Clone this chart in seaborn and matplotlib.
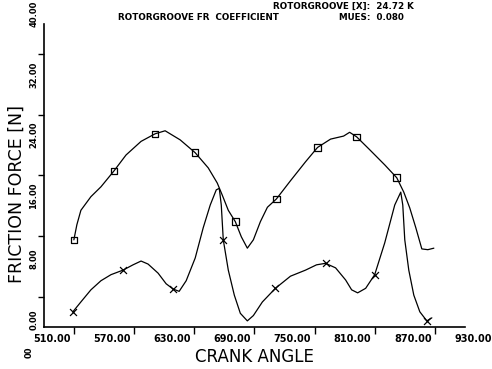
import numpy as np
import pandas as pd
import matplotlib.pyplot as plt
import seaborn as sns
from matplotlib.transforms import ScaledTranslation

# upper curve (square markers)
upper_angle = [540, 543, 547, 557, 567, 580, 592, 607, 621, 631, 646, 661, 674, 683, 688,
               694, 701, 707, 713, 719, 726, 733, 742, 756, 771, 783, 796, 809, 815, 822,
               835, 850, 862, 869, 875, 881, 887, 893, 899]
upper_force = [11.5, 13.5, 15.4, 17.2, 18.5, 20.6, 22.7, 24.5, 25.5, 25.9, 24.7, 23.0, 21.0,
               19.0, 17.4, 15.4, 13.9, 11.9, 10.4, 11.5, 13.9, 15.8, 16.9, 19.3, 21.8, 23.7,
               24.8, 25.2, 25.7, 25.1, 23.4, 21.4, 19.7, 17.8, 15.7, 13.1, 10.3, 10.2, 10.4]
upper_mark_angle = [540, 580, 621, 661, 701, 742, 783, 822, 862]
upper_mark_force = [11.5, 20.6, 25.5, 23.0, 13.9, 16.9, 23.7, 25.1, 19.7]

# lower curve (x markers)
lower_angle = [539, 547, 557, 567, 577, 589, 599, 607, 614, 624, 632, 639, 645, 652, 661,
               669, 676, 682, 685, 687, 689, 694, 700, 706, 713, 719, 728, 741, 756, 771,
               782, 791, 801, 811, 817, 823, 831, 840, 850, 860, 866, 868, 870, 874, 879,
               885, 892, 897]
lower_force = [2.0, 3.3, 4.9, 6.1, 6.9, 7.5, 8.2, 8.7, 8.3, 7.1, 5.7, 5.0, 4.7, 6.1, 9.1,
               13.1, 16.1, 18.1, 18.3, 16.1, 11.5, 7.5, 4.2, 1.8, 0.8, 1.5, 3.3, 5.1, 6.7,
               7.5, 8.2, 8.4, 7.8, 6.2, 4.9, 4.5, 5.1, 6.9, 11.1, 16.1, 17.8, 16.1, 11.5,
               7.5, 4.2, 2.0, 0.8, 1.2]
lower_mark_angle = [539, 589, 639, 689, 741, 791, 840, 892]
lower_mark_force = [2.0, 7.5, 5.0, 11.5, 5.1, 8.4, 6.9, 0.8]

x_labels = [510, 570, 630, 690, 750, 810, 870, 930]
y_labels = [0, 8, 16, 24, 32, 40]

sns.set_style("white")
plt.rcParams['font.family'] = ['DejaVu Sans']
plt.rcParams.update({"text.color": "black", "axes.labelcolor": "black",
                     "xtick.color": "black", "ytick.color": "black"})

fig = plt.figure(figsize=(4.92, 3.69), dpi=100)
ax = fig.add_axes([0.089, 0.114, 0.856, 0.821])

up = pd.DataFrame({"angle": upper_angle, "force": upper_force})
lo = pd.DataFrame({"angle": lower_angle, "force": lower_force})
sns.lineplot(data=up, x="angle", y="force", sort=False, color="black", lw=0.9, ax=ax)
sns.lineplot(data=lo, x="angle", y="force", sort=False, color="black", lw=0.9, ax=ax)
sns.scatterplot(x=upper_mark_angle, y=upper_mark_force, marker="s", s=22,
                facecolor="none", edgecolor="black", linewidth=0.9, ax=ax)
sns.scatterplot(x=lower_mark_angle, y=lower_mark_force, marker="x", s=25,
                color="black", linewidth=0.9, ax=ax)

ax.set_xlim(510, 930)
ax.set_ylim(0, 40)
for s in ["top", "right"]:
    ax.spines[s].set_visible(False)
for s in ["left", "bottom"]:
    ax.spines[s].set_color("black")
    ax.spines[s].set_linewidth(1.2)

  # x ticks: labels every 60, tick marks every 30
ax.set_xticks(x_labels)
ax.set_xticklabels([f"{v:.2f}" for v in x_labels], fontsize=7, fontweight="bold")
ax.set_xticks(np.arange(510, 931, 30), minor=True)
ax.tick_params(axis="x", which="major", length=0, pad=5)
ax.tick_params(axis="x", which="minor", length=5, width=1, direction="out", bottom=True)
for lab in ax.get_xticklabels():
    lab.set_transform(lab.get_transform() + ScaledTranslation(0.08, 0, fig.dpi_scale_trans))

  # y ticks: rotated labels every 8, tick marks every 4
ax.set_yticks(y_labels)
ax.set_yticklabels([f"{v:.2f}" for v in y_labels], fontsize=6, fontweight="bold",
                   rotation=90, va="bottom")
ax.set_yticks(np.arange(0, 41, 4), minor=True)
ax.tick_params(axis="y", which="major", length=0, pad=4)
ax.tick_params(axis="y", which="minor", length=4, width=1, direction="out", left=True)
for lab in ax.get_yticklabels():
    lab.set_transform(lab.get_transform() + ScaledTranslation(0, -0.03, fig.dpi_scale_trans))

ax.set_xlabel("CRANK ANGLE", fontsize=12, labelpad=3)
ax.set_ylabel("FRICTION FORCE [N]", fontsize=12.5)
ax.yaxis.set_label_coords(-0.043, 0.44)

fig.text(0.555, 0.983, "ROTORGROOVE [X]:  24.72 K", fontsize=6.3, fontweight="bold", va="center")
fig.text(0.24, 0.953, "ROTORGROOVE FR  COEFFICIENT", fontsize=6.3, fontweight="bold", va="center")
fig.text(0.69, 0.953, "MUES:  0.080", fontsize=6.3, fontweight="bold", va="center")
fig.text(0.06, 0.045, "00", fontsize=6, fontweight="bold", rotation=90, ha="center", va="center")

fig.savefig("out.png", dpi=100)
